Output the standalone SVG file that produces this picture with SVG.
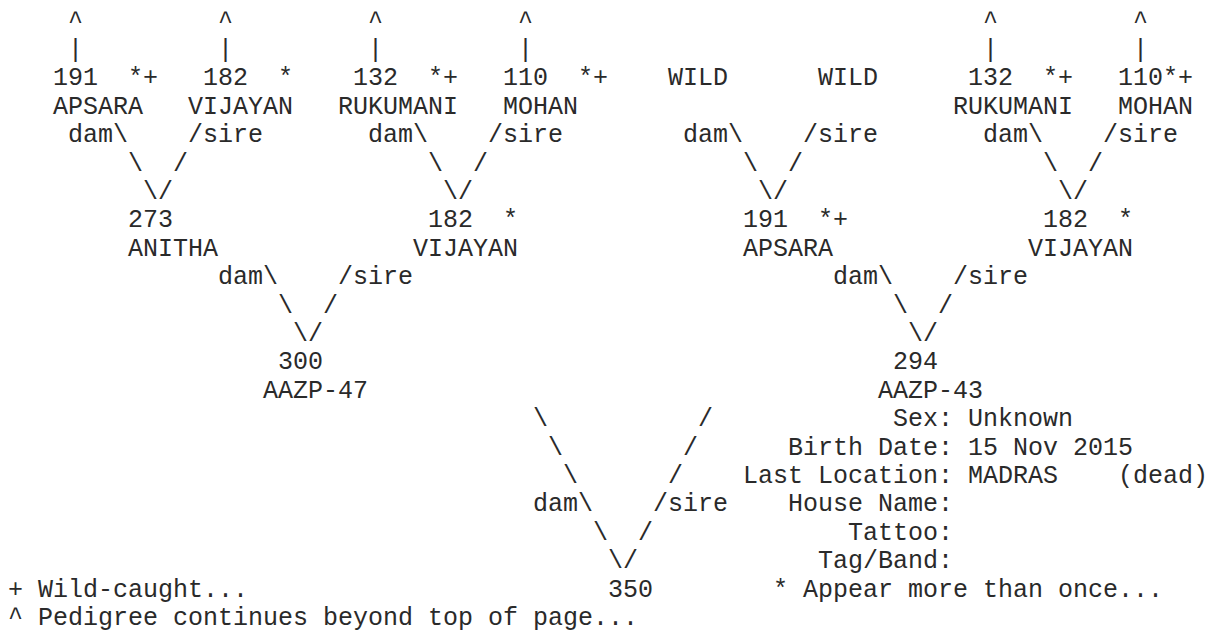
<svg xmlns="http://www.w3.org/2000/svg" width="1213" height="639" viewBox="0 0 1213 639">
<style>
text{font-family:"Courier New","Liberation Mono",monospace;font-size:25px;fill:#2a2a2a;white-space:pre}
</style>
<rect width="1213" height="639" fill="#fff"/>
<g id="connectors">
<text x="68" y="28.6">^</text><text x="218" y="28.6">^</text><text x="368" y="28.6">^</text><text x="518" y="28.6">^</text><text x="983" y="28.6">^</text><text x="1133" y="28.6">^</text>
<text x="68" y="57">|</text><text x="218" y="57">|</text><text x="368" y="57">|</text><text x="518" y="57">|</text><text x="983" y="57">|</text><text x="1133" y="57">|</text>
<text x="68" y="142.2">dam\</text><text x="188" y="142.2">/sire</text>
<text x="368" y="142.2">dam\</text><text x="488" y="142.2">/sire</text>
<text x="683" y="142.2">dam\</text><text x="803" y="142.2">/sire</text>
<text x="983" y="142.2">dam\</text><text x="1103" y="142.2">/sire</text>
<text x="128" y="170.6">\</text><text x="173" y="170.6">/</text>
<text x="428" y="170.6">\</text><text x="473" y="170.6">/</text>
<text x="743" y="170.6">\</text><text x="788" y="170.6">/</text>
<text x="1043" y="170.6">\</text><text x="1088" y="170.6">/</text>
<text x="143" y="199">\/</text><text x="443" y="199">\/</text><text x="758" y="199">\/</text><text x="1058" y="199">\/</text>
<text x="218" y="284.2">dam\</text><text x="338" y="284.2">/sire</text>
<text x="833" y="284.2">dam\</text><text x="953" y="284.2">/sire</text>
<text x="278" y="312.6">\</text><text x="323" y="312.6">/</text>
<text x="893" y="312.6">\</text><text x="938" y="312.6">/</text>
<text x="293" y="341">\/</text><text x="908" y="341">\/</text>
<text x="533" y="426.2">\</text><text x="698" y="426.2">/</text>
<text x="548" y="454.6">\</text><text x="683" y="454.6">/</text>
<text x="563" y="483">\</text><text x="668" y="483">/</text>
<text x="533" y="511.4">dam\</text><text x="653" y="511.4">/sire</text>
<text x="593" y="539.8">\</text><text x="638" y="539.8">/</text>
<text x="608" y="568.2">\/</text>
</g>
<g id="n191-apsara-top"><text x="53" y="85.4">191</text><text x="128" y="85.4">*+</text><text x="53" y="113.8">APSARA</text></g>
<g id="n182-vijayan-top"><text x="203" y="85.4">182</text><text x="278" y="85.4">*</text><text x="188" y="113.8">VIJAYAN</text></g>
<g id="n132-rukumani-a"><text x="353" y="85.4">132</text><text x="428" y="85.4">*+</text><text x="338" y="113.8">RUKUMANI</text></g>
<g id="n110-mohan-a"><text x="503" y="85.4">110</text><text x="578" y="85.4">*+</text><text x="503" y="113.8">MOHAN</text></g>
<g id="wild-dam"><text x="668" y="85.4">WILD</text></g>
<g id="wild-sire"><text x="818" y="85.4">WILD</text></g>
<g id="n132-rukumani-b"><text x="968" y="85.4">132</text><text x="1043" y="85.4">*+</text><text x="953" y="113.8">RUKUMANI</text></g>
<g id="n110-mohan-b"><text x="1118" y="85.4">110*+</text><text x="1118" y="113.8">MOHAN</text></g>
<g id="n273-anitha"><text x="128" y="227.4">273</text><text x="128" y="255.8">ANITHA</text></g>
<g id="n182-vijayan-a"><text x="428" y="227.4">182</text><text x="503" y="227.4">*</text><text x="413" y="255.8">VIJAYAN</text></g>
<g id="n191-apsara"><text x="743" y="227.4">191</text><text x="818" y="227.4">*+</text><text x="743" y="255.8">APSARA</text></g>
<g id="n182-vijayan-b"><text x="1043" y="227.4">182</text><text x="1118" y="227.4">*</text><text x="1028" y="255.8">VIJAYAN</text></g>
<g id="n300-aazp47"><text x="278" y="369.4">300</text><text x="263" y="397.8">AAZP-47</text></g>
<g id="n294-aazp43"><text x="893" y="369.4">294</text><text x="878" y="397.8">AAZP-43</text></g>
<g id="n350"><text x="608" y="596.6">350</text></g>
<g id="info">
<text x="893" y="426.2">Sex: Unknown</text>
<text x="788" y="454.6">Birth Date: 15 Nov 2015</text>
<text x="743" y="483">Last Location: MADRAS</text><text x="1118" y="483">(dead)</text>
<text x="788" y="511.4">House Name:</text>
<text x="848" y="539.8">Tattoo:</text>
<text x="818" y="568.2">Tag/Band:</text>
</g>
<g id="legend">
<text x="8" y="596.6">+ Wild-caught...</text>
<text x="773" y="596.6">* Appear more than once...</text>
<text x="8" y="625">^ Pedigree continues beyond top of page...</text>
</g>
</svg>
